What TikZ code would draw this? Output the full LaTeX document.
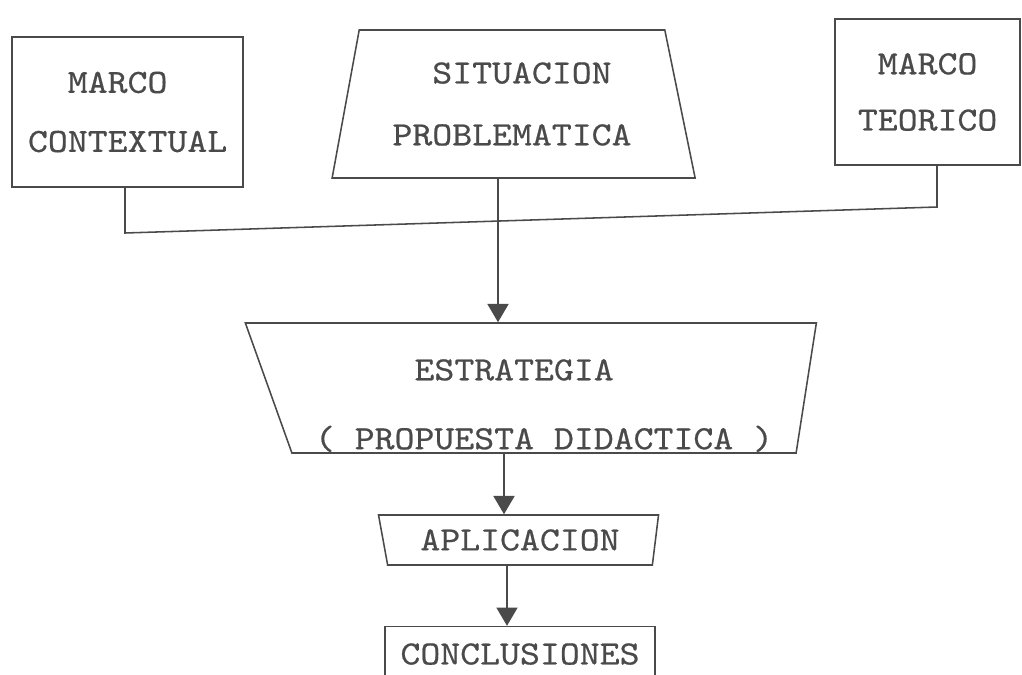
\documentclass[tikz,border=0pt]{standalone}
\usepackage{fontspec}
\newfontfamily\typewriter{lmmono10-regular}[Extension=.otf, FakeStretch=1.12, FakeBold=0.6]
\usetikzlibrary{positioning,shapes.geometric,arrows.meta}
\definecolor{ink}{HTML}{4A4A4A}
\tikzset{
  box/.style={draw=ink, line width=1.1pt, text=ink, inner sep=0pt,
    font=\typewriter\fontsize{24.1pt}{42pt}\selectfont},
  trap/.style={box, trapezium, trapezium stretches body},
  link/.style={draw=ink, line width=1.1pt},
  arr/.style={link, -{Triangle[width=15pt,length=13pt]}}}

\begin{document}
\begin{tikzpicture}
        \useasboundingbox (0,0) rectangle (25.55,-16.85);
        \node[box, minimum width=5.775cm, minimum height=3.75cm, align=left] (mc) at (3.19,-2.8) {~~MARCO\\CONTEXTUAL};
        \node[trap, trapezium left angle=72, trapezium right angle=70, minimum width=9.075cm, minimum height=3.7cm, align=left] (sp) at (12.8,-2.6) {~~SITUACION\\[2pt]PROBLEMATICA};
        \node[box, minimum width=4.625cm, minimum height=3.65cm, align=center] (mt) at (23.19,-2.3) {MARCO\\[-2pt]TEORICO};
        \node[trap, trapezium left angle=110, trapezium right angle=99, minimum width=14.275cm, minimum height=3.25cm, align=left] (est) at (13.6,-9.7) {\rule{0pt}{40pt}~~~~~ESTRATEGIA\\[7pt]( PROPUESTA DIDACTICA )};
        \node[trap, trapezium left angle=113, trapezium right angle=106, minimum width=7cm, minimum height=1.25cm] (apl) at (13.0,-13.5) {APLICACION};
        \node[box, minimum width=6.75cm, minimum height=1.375cm] (con) [below=1.5cm of apl] {CONCLUSIONES};
        \coordinate (jl) at (3.125,-5.825);
        \coordinate (jr) at (23.425,-5.175);
        \draw[link] (mc.south -| jl) -- (jl) -- (jr) -- (mt.south -| jr);
        \draw[arr] ([xshift=-0.35cm]sp.center |- sp.south) -- ([xshift=-0.35cm]sp.center |- est.north);
        \draw[arr] ([xshift=-1cm]est.center |- est.south) -- ([xshift=-1cm]est.center |- apl.north);
        \draw[arr] ([xshift=-0.325cm]apl.center |- apl.south) -- ([xshift=-0.325cm]apl.center |- con.north);
      \end{tikzpicture}
\end{document}
